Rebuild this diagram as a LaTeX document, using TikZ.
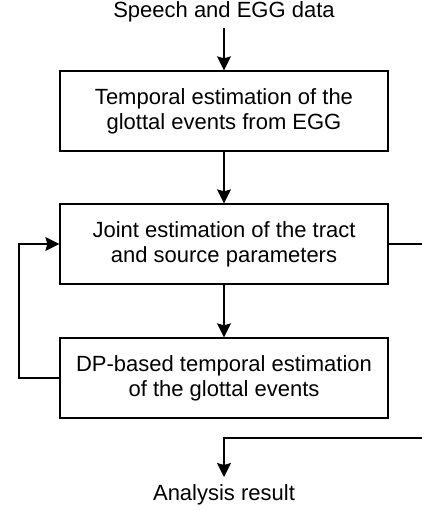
\documentclass[tikz,border=0pt]{standalone}
\usepackage{fontspec}
\setmainfont{Liberation Sans}
\usetikzlibrary{arrows.meta}
\begin{document}
\begin{tikzpicture}[x=1pt,y=1pt,
  box/.style={draw, line width=1.3pt, minimum width=328pt, minimum height=80pt, inner sep=0pt, align=center, font=\fontsize{22}{25}\selectfont},
  lbl/.style={inner sep=0pt, font=\fontsize{22}{25}\selectfont},
  conn/.style={line width=1.3pt, -{Stealth[length=14pt,width=14pt,inset=2pt]}},
  line/.style={line width=1.3pt}]
\useasboundingbox (0,0) rectangle (422,510);
\node[lbl] (in) at (224,498) {Speech and EGG data};
\node[box] (b1) at (224,399) {Temporal estimation of the\\glottal events from EGG};
\node[box] (b2) at (224,266) {Joint estimation of the tract\\and source parameters};
\node[box] (b3) at (224,132) {DP-based temporal estimation\\of the glottal events};
\node[lbl] (out) at (224,15) {Analysis result};
\coordinate (r1) at (422,266);
\coordinate (r2) at (422,72);
\coordinate (t2) at (224,72);
\coordinate (fl) at (19,132);
\coordinate (fu) at (19,266);
\draw[conn] (224,482) -- (b1.north);
\draw[conn] (b1.south) -- (b2.north);
\draw[conn] (b2.south) -- (b3.north);
\draw[conn] (b3.west) -- (fl) -- (fu) -- (b2.west);
\draw[line] (b2.east) -- (r1);
\draw[conn] (r2) -- (t2) -- (224,33);
\end{tikzpicture}
\end{document}
